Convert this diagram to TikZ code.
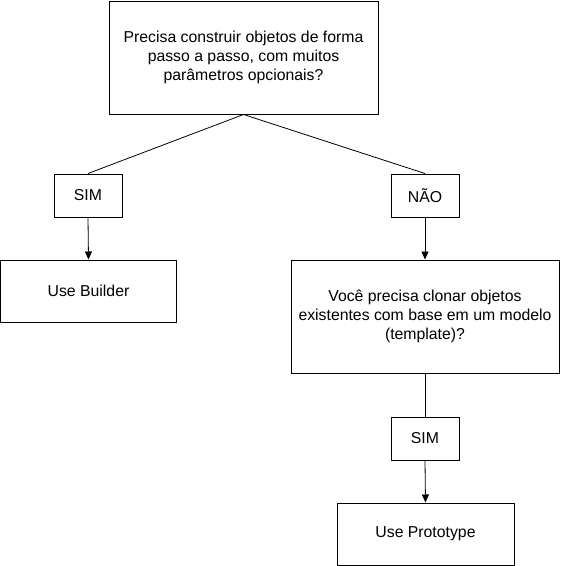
\documentclass[tikz,border=0pt]{standalone}
\usepackage{fontspec}
\setmainfont{Liberation Sans}
\usetikzlibrary{arrows.meta}
\begin{document}
\begin{tikzpicture}[x=1pt,y=-1pt,
  box/.style={draw,line width=1pt,inner sep=0pt,align=center,font=\fontsize{15.8}{19}\selectfont},
  conn/.style={line width=0.8pt},
  arr/.style={line width=0.8pt,-{Triangle[width=7pt,length=8pt]}}]
\useasboundingbox (0,0) rectangle (561,566);
\node[box,minimum width=269pt,minimum height=113pt] (q1) at (243.5,57.5) {Precisa construir objetos de forma\\passo a passo, com muitos\\parâmetros opcionais?};
\node[box,minimum width=68pt,minimum height=43pt] (sim1) at (88,195.5) {SIM};
\node[box,minimum width=68pt,minimum height=43pt] (nao) at (425,195.5) {NÃO};
\node[box,minimum width=176pt,minimum height=62pt] (builder) at (88.5,291) {Use Builder};
\node[box,minimum width=268pt,minimum height=113pt] (q2) at (425,316.5) {Você precisa clonar objetos\\existentes com base em um modelo\\(template)?};
\node[box,minimum width=68pt,minimum height=43pt] (sim2) at (425,438.5) {SIM};
\node[box,minimum width=177pt,minimum height=62pt] (proto) at (425.5,534) {Use Prototype};
\draw[conn] (q1.south) -- (sim1.north);
\draw[conn] (q1.south) -- (nao.north);
\draw[arr] (sim1.south) -- (builder.north);
\draw[arr] (nao.south) -- (q2.north);
\draw[conn] (q2.south) -- (sim2.north);
\draw[arr] (sim2.south) -- (proto.north);
\end{tikzpicture}
\end{document}
